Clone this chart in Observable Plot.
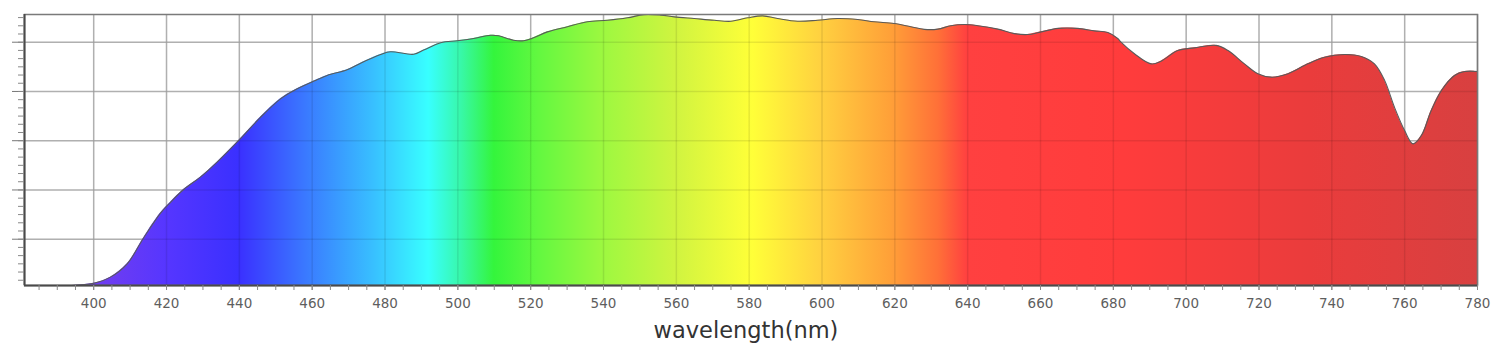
<!DOCTYPE html>
<html>
<head>
<meta charset="utf-8">
<script src="https://cdn.jsdelivr.net/npm/d3@7"></script>
<script src="https://cdn.jsdelivr.net/npm/@observablehq/plot@0.6"></script>
<style>
  html, body { margin: 0; padding: 0; background: #fff; }
  svg { display: block; }
</style>
</head>
<body>
<div id="chart"></div>
<script>
// ---- data ----
const wavelengths = [381.0, 390.9, 395.0, 400.0, 404.6, 409.2, 413.7, 418.3, 421.1, 424.7, 429.3, 433.9,
  440.3, 445.8, 451.3, 455.0, 460.5, 464.1, 469.6, 473.3, 478.8, 481.5, 487.9, 490.6, 495.3, 499.9,
  504.3, 509.0, 511.2, 515.3, 518.1, 520.8, 524.6, 530.1, 535.6, 541.1, 546.6, 551.1, 555.7, 559.4,
  564.9, 570.4, 575.0, 579.6, 583.7, 587.8, 593.3, 598.8, 604.3, 609.8, 614.3, 619.8, 624.4, 628.1,
  631.8, 635.4, 639.1, 642.8, 648.3, 652.8, 656.5, 660.2, 664.8, 670.2, 674.8, 678.5, 681.2, 682.1,
  685.8, 690.4, 693.1, 697.7, 702.3, 708.2, 711.5, 716.0, 719.7, 723.4, 728.0, 733.4, 738.0, 743.5,
  748.1, 751.7, 754.5, 757.2, 760.0, 762.3, 764.6, 767.3, 770.1, 773.7, 776.5, 780.0];
const intensities = [0.012, 0.012, 0.013, 0.021, 0.046, 0.100, 0.205, 0.305, 0.350, 0.402, 0.452, 0.513,
  0.608, 0.695, 0.770, 0.804, 0.842, 0.865, 0.888, 0.915, 0.950, 0.961, 0.951, 0.968, 0.998, 1.006,
  1.015, 1.028, 1.026, 1.008, 1.006, 1.018, 1.042, 1.063, 1.083, 1.089, 1.099, 1.112, 1.110, 1.103,
  1.096, 1.089, 1.085, 1.099, 1.107, 1.096, 1.085, 1.089, 1.096, 1.092, 1.083, 1.076, 1.063, 1.052,
  1.053, 1.067, 1.072, 1.067, 1.053, 1.035, 1.031, 1.042, 1.056, 1.056, 1.046, 1.039, 1.015, 1.000,
  0.953, 0.912, 0.923, 0.966, 0.977, 0.987, 0.966, 0.912, 0.872, 0.858, 0.872, 0.912, 0.939, 0.950,
  0.942, 0.912, 0.845, 0.736, 0.641, 0.587, 0.621, 0.723, 0.804, 0.865, 0.881, 0.881];

const xTickValues = [400, 420, 440, 460, 480, 500, 520, 540, 560, 580, 600, 620, 640, 660, 680, 700, 720, 740, 760, 780];
const yGridValues = [0.2, 0.4, 0.6, 0.8, 1.0];
const spectrumNm = [381, 405, 420, 440, 458, 477, 492, 501, 510, 522, 541, 560, 581, 600, 619, 632, 640, 683, 734, 780];
const spectrumColors = ["#7a40f0", "#6c3cf2", "#5636ff", "#3a30ff", "#3a78ff", "#38c0ff", "#38ffff", "#38f8a8",
  "#34f53c", "#62f840", "#a0f840", "#d0f440", "#ffff38", "#ffd040", "#ffa038", "#ff7038", "#ff4040",
  "#ff3c3c", "#ea3c3c", "#d84040"];
const axisTitle = "wavelength(nm)";

// ---- build ----
const data = wavelengths.map((w, i) => ({w, v: intensities[i]}));
const X0 = 381, X1 = 780, Y0 = 0.012, Y1 = 1.1125;
const xMinor = d3.range(385, 781, 5);
const yMinor = d3.range(1, 34).map(i => i * 0.2 / 6).filter(v => v > Y0 && v < Y1);
const noLabel = () => "";

const plot = Plot.plot({
  width: 1500,
  height: 356,
  marginLeft: 24,
  marginRight: 23,
  marginTop: 14,
  marginBottom: 71,
  style: {fontFamily: "'DejaVu Sans', Verdana, sans-serif", fontSize: "13px", background: "#fff", overflow: "visible"},
  x: {domain: [X0, X1]},
  y: {domain: [Y0, Y1]},
  marks: [
    Plot.ruleX(xTickValues, {stroke: "#c2c2c2", strokeWidth: 1.5}),
    Plot.ruleY(yGridValues, {stroke: "#c2c2c2", strokeWidth: 1.5}),
    Plot.areaY(data, {x: "w", y1: Y0, y2: "v", fill: "url(#spectrum)", curve: "catmull-rom"}),
    Plot.ruleX(xTickValues, {stroke: "#000", strokeOpacity: 0.09, strokeWidth: 1.5}),
    Plot.ruleY(yGridValues, {stroke: "#000", strokeOpacity: 0.09, strokeWidth: 1.5}),
    Plot.lineY(data, {x: "w", y: "v", stroke: "#5a5a5a", strokeWidth: 1.1, curve: "catmull-rom"}),
    Plot.frame({stroke: "#7a7a7a", strokeWidth: 1.5}),
    Plot.ruleX([X0], {stroke: "#4a4a4a", strokeWidth: 2}),
    Plot.ruleY([Y0], {stroke: "#4a4a4a", strokeWidth: 2}),
    Plot.axisX({ticks: xTickValues, tickSize: 5, tickPadding: 8, fontSize: 13.5, stroke: "#888", fill: "#5e5e5e", label: null}),
    Plot.axisX({ticks: xMinor, tickSize: 5, tickFormat: noLabel, stroke: "#888", label: null}),
    Plot.axisY({ticks: yGridValues, tickSize: 12, tickFormat: noLabel, stroke: "#777", label: null}),
    Plot.axisY({ticks: yMinor, tickSize: 6, tickFormat: noLabel, stroke: "#888", label: null}),
    Plot.text([axisTitle], {text: d => d, frameAnchor: "bottom", dy: 52, dx: -5, fontSize: 22.5, fill: "#333"})
  ]
});

// spectral gradient definition used by the area fill
const svg = d3.select(plot);
const grad = svg.insert("defs", ":first-child")
  .append("linearGradient")
  .attr("id", "spectrum")
  .attr("x1", 0).attr("x2", 1).attr("y1", 0).attr("y2", 0);
spectrumNm.forEach((nm, i) => {
  grad.append("stop")
    .attr("offset", (nm - X0) / (X1 - X0))
    .attr("stop-color", spectrumColors[i]);
});

document.getElementById("chart").appendChild(plot);
</script>
</body>
</html>
